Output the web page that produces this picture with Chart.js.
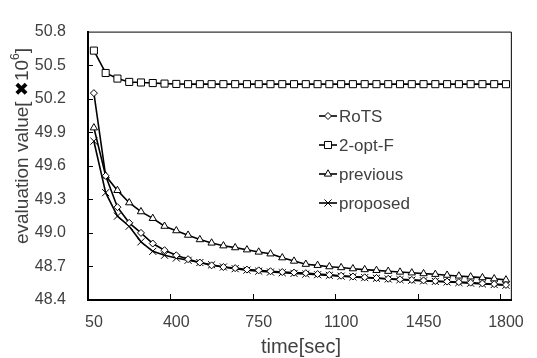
<!DOCTYPE html>
<html>
<head>
<meta charset="utf-8">
<script src="https://cdn.jsdelivr.net/npm/chart.js@4.4.1/dist/chart.umd.min.js"></script>
<style>
  html, body { margin: 0; padding: 0; background: #fff; }
  #wrap { width: 537px; height: 358px; }
</style>
</head>
<body>
<div id="wrap"><canvas id="chart" width="537" height="358"></canvas></div>
<script>
// time axis (sec) - one point every 50 sec
const times = [50, 100, 150, 200, 250, 300, 350, 400, 450, 500, 550, 600,
  650, 700, 750, 800, 850, 900, 950, 1000, 1050, 1100, 1150, 1200,
  1250, 1300, 1350, 1400, 1450, 1500, 1550, 1600, 1650, 1700, 1750, 1800];
const xTickLabels = ['50', '400', '750', '1100', '1450', '1800'];
const yTicks = [48.4, 48.7, 49.0, 49.3, 49.6, 49.9, 50.2, 50.5, 50.8];

// evaluation value [x10^6]
const rots = [50.25, 49.51, 49.23, 49.09, 49.00, 48.905, 48.845, 48.80, 48.765, 48.735, 48.71, 48.695,
  48.685, 48.672, 48.665, 48.657, 48.65, 48.645, 48.64, 48.632, 48.625, 48.617, 48.61, 48.603,
  48.597, 48.59, 48.585, 48.58, 48.575, 48.57, 48.565, 48.56, 48.555, 48.548, 48.542, 48.535];
const twoOptF = [50.63, 50.43, 50.38, 50.35, 50.345, 50.34, 50.335, 50.332, 50.33, 50.33, 50.33, 50.33,
  50.33, 50.33, 50.33, 50.33, 50.33, 50.33, 50.33, 50.33, 50.33, 50.33, 50.33, 50.33,
  50.33, 50.33, 50.33, 50.33, 50.33, 50.33, 50.33, 50.33, 50.33, 50.33, 50.33, 50.33];
const previous = [49.94, 49.51, 49.38, 49.27, 49.19, 49.13, 49.06, 49.02, 48.98, 48.94, 48.91, 48.885,
  48.868, 48.849, 48.829, 48.813, 48.778, 48.748, 48.72, 48.71, 48.698, 48.69, 48.68, 48.672,
  48.665, 48.657, 48.65, 48.643, 48.636, 48.63, 48.622, 48.615, 48.607, 48.6, 48.59, 48.58];
const proposed = [49.82, 49.36, 49.15, 49.06, 48.92, 48.835, 48.80, 48.775, 48.755, 48.735, 48.715, 48.695,
  48.68, 48.667, 48.658, 48.65, 48.644, 48.638, 48.632, 48.626, 48.62, 48.613, 48.607, 48.6,
  48.594, 48.588, 48.582, 48.577, 48.571, 48.566, 48.561, 48.556, 48.55, 48.544, 48.538, 48.532];

const FONT = '"Liberation Sans", Arial, sans-serif';
const TEXT = '#404040';

function series(label, data, style, radius) {
  return {
    label: label,
    data: data,
    borderColor: '#000',
    borderWidth: 1.6,
    backgroundColor: '#fff',
    pointStyle: style,
    pointRadius: radius,
    pointBorderColor: '#000',
    pointBackgroundColor: '#fff',
    pointBorderWidth: 1,
    tension: 0
  };
}

// frame, inside ticks, legend and axis titles
const decorations = {
  id: 'decorations',
  afterDraw(chart) {
    const ctx = chart.ctx;
    const area = chart.chartArea;
    const xs = chart.scales.x;
    const ys = chart.scales.y;
    ctx.save();

    // thin top and right border
    ctx.strokeStyle = '#000';
    ctx.lineWidth = 1;
    ctx.beginPath();
    ctx.moveTo(area.left, area.top + 0.5);
    ctx.lineTo(area.right - 0.5, area.top + 0.5);
    ctx.lineTo(area.right - 0.5, area.bottom);
    ctx.stroke();

    // tick marks pointing into the plot
    ctx.beginPath();
    times.forEach((t, i) => {
      if (i > 0 && xTickLabels.includes(String(t))) {
        const px = Math.round((xs.getPixelForValue(i - 1) + xs.getPixelForValue(i)) / 2) + 0.5;
        ctx.moveTo(px, area.bottom);
        ctx.lineTo(px, area.bottom - 6);
      }
    });
    yTicks.forEach(v => {
      if (v === yTicks[0] || v === yTicks[yTicks.length - 1]) return;
      const py = Math.round(ys.getPixelForValue(v)) + 0.5;
      ctx.moveTo(area.left, py);
      ctx.lineTo(area.left + 5, py);
    });
    ctx.stroke();

    // legend
    const lx = 319, ly = 116, gap = 29;
    ctx.font = '17px ' + FONT;
    ctx.textBaseline = 'middle';
    ctx.textAlign = 'left';
    chart.data.datasets.forEach((ds, i) => {
      const y = ly + i * gap;
      ctx.strokeStyle = '#000';
      ctx.lineWidth = 1.6;
      ctx.beginPath();
      ctx.moveTo(lx, y);
      ctx.lineTo(lx + 18, y);
      ctx.stroke();
      ctx.fillStyle = '#fff';
      ctx.lineWidth = 1;
      Chart.helpers.drawPoint(ctx, { pointStyle: ds.pointStyle, radius: ds.pointRadius, borderWidth: 1, rotation: 0 }, lx + 9, y);
      ctx.fillStyle = TEXT;
      ctx.fillText(ds.label, lx + 20, y + 1);
    });

    // x title
    ctx.font = '20px ' + FONT;
    ctx.fillStyle = TEXT;
    ctx.textAlign = 'center';
    ctx.textBaseline = 'alphabetic';
    ctx.fillText('time[sec]', (area.left + area.right) / 2 + 1, 353);

    // y title, rotated, with bold cross and superscript
    ctx.translate(22, 146);
    ctx.rotate(-Math.PI / 2);
    const parts = [
      { t: 'evaluation value[ ', f: '19px ' + FONT, c: TEXT, dy: 0 },
      { t: '\u2716', f: 'bold 18px "DejaVu Sans", sans-serif', c: '#000', dy: 0 },
      { t: '10', f: '19px ' + FONT, c: TEXT, dy: 0 },
      { t: '6', f: '12px ' + FONT, c: TEXT, dy: -7 },
      { t: ']', f: '19px ' + FONT, c: TEXT, dy: 0 }
    ];
    let total = 0;
    parts.forEach(p => { ctx.font = p.f; p.w = ctx.measureText(p.t).width; total += p.w; });
    let cx = -total / 2;
    ctx.textAlign = 'left';
    ctx.textBaseline = 'middle';
    parts.forEach(p => {
      ctx.font = p.f;
      ctx.fillStyle = p.c;
      ctx.fillText(p.t, cx, 1 + p.dy);
      cx += p.w;
    });
    ctx.restore();
  }
};

const ctx = document.getElementById('chart').getContext('2d');
const chart = new Chart(ctx, {
  type: 'line',
  data: {
    labels: times,
    datasets: [
      series('RoTS', rots, 'rectRot', 3.5),
      series('2-opt-F', twoOptF, 'rect', 5),
      series('previous', previous, 'triangle', 4.2),
      series('proposed', proposed, 'crossRot', 5)
    ]
  },
  options: {
    responsive: false,
    animation: false,
    layout: { padding: { top: 15, right: 17, left: 0, bottom: 0 } },
    plugins: {
      legend: { display: false },
      tooltip: { enabled: false }
    },
    scales: {
      x: {
        type: 'category',
        offset: true,
        grid: { display: false, drawTicks: false },
        border: { color: '#000', width: 2 },
        ticks: {
          autoSkip: false,
          maxRotation: 0,
          padding: 13,
          color: TEXT,
          font: { family: FONT, size: 16 },
          callback: function(value) {
            const lab = String(this.getLabelForValue(value));
            return xTickLabels.includes(lab) ? lab : '';
          }
        },
        afterFit: s => { s.height = 58; }
      },
      y: {
        min: yTicks[0],
        max: yTicks[yTicks.length - 1],
        grid: { display: false, drawTicks: false },
        border: { color: '#000', width: 2 },
        ticks: {
          stepSize: 0.3,
          padding: 22,
          color: TEXT,
          font: { family: FONT, size: 16 },
          callback: v => Number(v).toFixed(1)
        },
        afterFit: s => { s.width = 88; }
      }
    }
  },
  plugins: [decorations]
});
</script>
</body>
</html>
